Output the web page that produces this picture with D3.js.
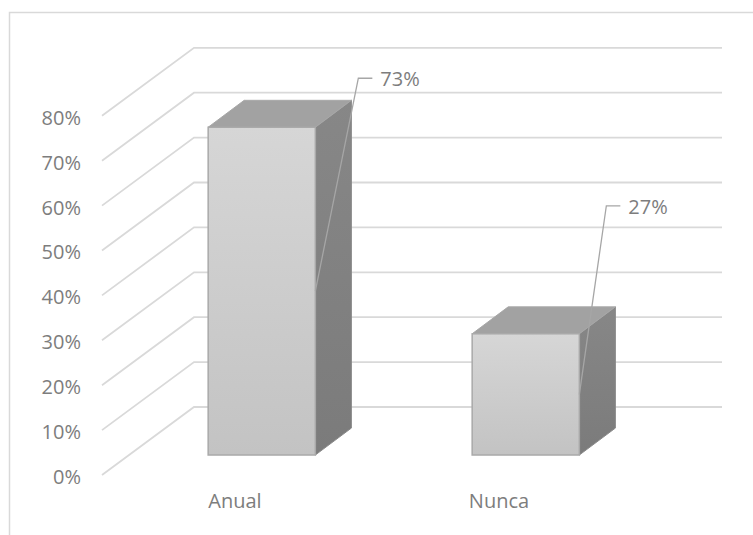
<!DOCTYPE html>
<html>
<head>
<meta charset="utf-8">
<script src="https://cdn.jsdelivr.net/npm/d3@7"></script>
<style>
  html, body { margin: 0; padding: 0; background: #fff; }
  svg { display: block; }
</style>
</head>
<body>
<svg id="chart" width="753" height="535"></svg>
<script>
// ---- data ----
const categories = ["Anual", "Nunca"];
const values = [0.73, 0.27];
const valueLabels = ["73%", "27%"];
const tickValues = [0, 0.1, 0.2, 0.3, 0.4, 0.5, 0.6, 0.7, 0.8];

// ---- layout ----
const W = 753, H = 535;
const FONT = "'Open Sans', 'Liberation Sans', sans-serif";
const TEXT = "#7d7d7d";
const GRID = "#d9d9d9";
const DEPTH_DX = 91, DEPTH_DY = -68;   // full depth projection
const D0 = 0.294, D1 = 0.69;           // bar front/back depth
const labelOffsets = [[43, -49], [27, -128]]; // leader corner relative to bar front-right top

const svg = d3.select("#chart");

// chart frame
svg.append("rect")
  .attr("x", 9.5).attr("y", 12.5)
  .attr("width", W + 20).attr("height", H + 20)
  .attr("fill", "none").attr("stroke", GRID).attr("stroke-width", 1.5);

const x = d3.scaleBand().domain(categories).range([103, 631]).padding(0);
const y = d3.scaleLinear().domain([0, 0.8]).range([475, 475 - 0.8 * 449]);
const barW = x.bandwidth() * 0.406;

function P(px, v, d) {
  return [px + DEPTH_DX * d, y(v) + DEPTH_DY * d];
}

// gradients
const defs = svg.append("defs");
const gFront = defs.append("linearGradient").attr("id", "gFront")
  .attr("x1", 0).attr("y1", 0).attr("x2", 0).attr("y2", 1);
gFront.append("stop").attr("offset", "0%").attr("stop-color", "#d6d6d6");
gFront.append("stop").attr("offset", "100%").attr("stop-color", "#c3c3c3");
const gSide = defs.append("linearGradient").attr("id", "gSide")
  .attr("x1", 0).attr("y1", 0).attr("x2", 0).attr("y2", 1);
gSide.append("stop").attr("offset", "0%").attr("stop-color", "#878787");
gSide.append("stop").attr("offset", "100%").attr("stop-color", "#7b7b7b");

// gridlines (side wall + back wall)
const x0 = x.range()[0], x1 = x.range()[1];
const line = d3.line();
svg.append("g").selectAll("path")
  .data(tickValues)
  .join("path")
  .attr("d", v => line([P(x0 - 1, v, 0), P(x0, v, 1), P(x1, v, 1)]))
  .attr("fill", "none")
  .attr("stroke", GRID)
  .attr("stroke-width", 1.8);

// y axis labels
const yAxis = d3.axisLeft(y).tickValues(tickValues)
  .tickFormat(d3.format(".0%")).tickSize(0).tickPadding(0);
const yg = svg.append("g").attr("transform", "translate(81,2)").call(yAxis);
yg.select(".domain").remove();
yg.selectAll("text")
  .attr("font-family", FONT).attr("font-size", 20).attr("fill", TEXT);

// x axis labels
const xAxis = d3.axisBottom(x).tickSize(0).tickPadding(0);
const xg = svg.append("g").attr("transform", "translate(0,494)").call(xAxis);
xg.select(".domain").remove();
xg.selectAll("text")
  .attr("font-family", FONT).attr("font-size", 20).attr("fill", TEXT);

// bars
const bars = svg.append("g");
categories.forEach((c, i) => {
  const v = values[i];
  const cx = x(c) + x.bandwidth() / 2;
  const xl = cx - barW / 2, xr = cx + barW / 2;
  const g = bars.append("g");
  // side face
  g.append("path")
    .attr("d", line([P(xr, 0, D0), P(xr, v, D0), P(xr, v, D1), P(xr, 0, D1)]) + "Z")
    .attr("fill", "url(#gSide)").attr("stroke", "#8a8a8a").attr("stroke-width", 1);
  // top face
  g.append("path")
    .attr("d", line([P(xl, v, D0), P(xr, v, D0), P(xr, v, D1), P(xl, v, D1)]) + "Z")
    .attr("fill", "#a2a2a2").attr("stroke", "#a8a8a8").attr("stroke-width", 1);
  // front face
  const ft = P(xl, v, D0), fb = P(xr, 0, D0);
  g.append("rect")
    .attr("x", ft[0]).attr("y", ft[1])
    .attr("width", fb[0] - ft[0]).attr("height", fb[1] - ft[1])
    .attr("fill", "url(#gFront)").attr("stroke", "#a9a9a9").attr("stroke-width", 1.5);
});

// data labels with leader lines
const labels = svg.append("g");
categories.forEach((c, i) => {
  const v = values[i];
  const cx = x(c) + x.bandwidth() / 2;
  const xr = cx + barW / 2;
  const top = P(xr, v, D0);
  const mid = P(xr, v / 2, D0);
  const corner = [top[0] + labelOffsets[i][0], top[1] + labelOffsets[i][1]];
  labels.append("path")
    .attr("d", line([mid, corner, [corner[0] + 14, corner[1]]]))
    .attr("fill", "none").attr("stroke", "#a6a6a6").attr("stroke-width", 1.3);
  labels.append("text")
    .attr("x", corner[0] + 22).attr("y", corner[1] + 1)
    .attr("dy", "0.35em")
    .attr("font-family", FONT).attr("font-size", 20).attr("fill", TEXT)
    .text(valueLabels[i]);
});
</script>
</body>
</html>
